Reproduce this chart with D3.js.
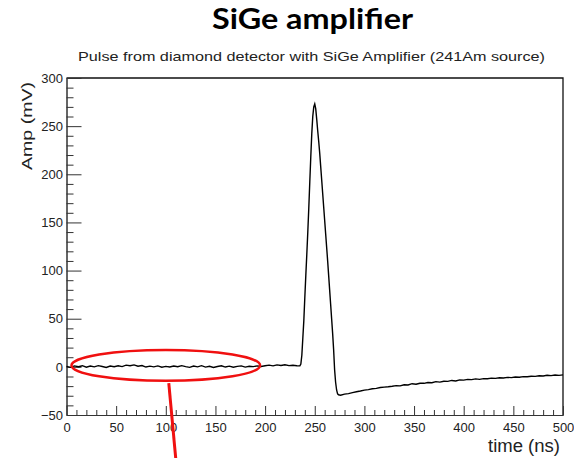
<!DOCTYPE html>
<html>
<head>
<meta charset="utf-8">
<script src="https://cdn.jsdelivr.net/npm/d3@7"></script>
<style>
  body { margin: 0; background: #fff; }
  svg { display: block; }
  .tick text { font-family: "Liberation Sans", Arial, sans-serif; fill: #222; }
</style>
</head>
<body>
<svg id="chart" width="574" height="458"></svg>
<script>
// waveform (ns, mV)
const baseTime = [0,4,8,12,16,20,24,28,32,36,40,44,48,52,56,60,64,68,72,76,80,84,88,92,96,100,104,108,112,116,120,124,128,132,136,140,144,148,152,156,160,164,168,172,176,180,184,188,192,196,200,204,208,212,216,220,224,228,232]
const baseAmp  = [0.5,-0.5,1.0,0.2,1.2,-0.3,0.8,0.0,1.3,0.4,-0.6,0.9,0.1,1.1,0.3,1.8,1.2,2.0,0.6,1.4,-0.2,0.7,0.0,1.0,-0.4,0.5,-0.2,0.9,0.1,1.3,0.2,-0.5,0.8,0.0,1.2,-0.3,0.6,-0.6,0.4,1.1,-0.2,0.7,-0.4,0.5,1.0,-0.3,0.6,0.2,1.0,0.4,1.2,1.8,1.0,2.0,1.4,2.2,1.3,1.6,1.2]
const pulseTime = [235,236,237,238,239,240,241,242,243,244,245,246,247,248,249,250,251,252,253,254,255,256,257,258,259,260,261,262,263,264,265,266,267,268,269,270,271,272,273,274]
const pulseAmp  = [1,3,12,30,48,72,95,117,140,165,192,218,242,260,270,273,268,257,245,234,222,208,194,180,166,152,138,124,110,95,80,65,50,35,18,-3,-16,-24,-28,-29]
const tailTime = [276,280,284,288,292,296,300,304,308,312,316,320,324,328,332,336,340,344,348,352,356,360,364,368,372,376,380,384,388,392,396,400,404,408,412,416,420,424,428,432,436,440,444,448,452,456,460,464,468,472,476,480,484,488,492,496,500]
const tailAmp  = [-29.5,-28.3,-27.8,-26.7,-25.9,-25.1,-24.2,-23.6,-22.8,-22.3,-21.5,-21.0,-20.6,-20.1,-19.5,-19.7,-18.6,-18.8,-17.5,-18.1,-17.0,-17.1,-16.2,-16.5,-15.3,-15.8,-14.9,-15.1,-14.1,-14.6,-13.5,-13.8,-13.0,-13.3,-12.5,-13.0,-12.2,-12.4,-11.7,-12.0,-11.3,-11.6,-10.9,-11.2,-10.5,-10.8,-10.1,-10.3,-9.7,-9.9,-9.3,-9.5,-8.7,-9.1,-8.5,-8.8,-8.3]

const xTicks = [0,50,100,150,200,250,300,350,400,450,500]
const yTicks = [-50,0,50,100,150,200,250,300]
const xMinor = [10,20,30,40,60,70,80,90,110,120,130,140,160,170,180,190,210,220,230,240,260,270,280,290,310,320,330,340,360,370,380,390,410,420,430,440,460,470,480,490]
const yMinor = [-40,-30,-20,-10,10,20,30,40,60,70,80,90,110,120,130,140,160,170,180,190,210,220,230,240,260,270,280,290]

// red marker round the quiet baseline: [t centre, amp centre, t half-width, amp half-height]
const mark = [100, 1.5, 95, 16]
const arrow = [[103, -17], [110, -95]]

const title = "SiGe amplifier"
const subtitle = "Pulse from diamond detector with SiGe Amplifier (241Am source)"
const xLabel = "time (ns)"
const yLabel = "Amp (mV)"

const padL = 66.5, padR = 563, padT = 78, padB = 415

const x = d3.scaleLinear().domain([0, 500]).range([padL, padR])
const y = d3.scaleLinear().domain([-50, 300]).range([padB, padT])

const svg = d3.select("#chart")

const wave = []
baseTime.forEach((t, i) => wave.push([t, baseAmp[i]]))
pulseTime.forEach((t, i) => wave.push([t, pulseAmp[i]]))
tailTime.forEach((t, i) => wave.push([t, tailAmp[i]]))

// titles
svg.append("text")
  .attr("x", 312.5).attr("y", 29)
  .attr("text-anchor", "middle")
  .style("font-family", "Lato, 'Open Sans', sans-serif")
  .style("font-weight", "bold")
  .style("font-size", "28px")
  .attr("textLength", 201).attr("lengthAdjust", "spacingAndGlyphs")
  .text(title)

svg.append("text")
  .attr("x", 311.5).attr("y", 61)
  .attr("text-anchor", "middle")
  .style("font-family", "'Liberation Sans', Arial, sans-serif")
  .style("font-size", "13px")
  .style("fill", "#222")
  .attr("textLength", 467).attr("lengthAdjust", "spacingAndGlyphs")
  .text(subtitle)

// frame top and right
svg.append("path")
  .attr("d", `M${padL},${padT}H${padR}V${padB}`)
  .attr("fill", "none").attr("stroke", "#111").attr("stroke-width", 1.3)

// axes, ticks pointing inward like ROOT
svg.append("g")
  .attr("transform", `translate(0,${padB})`)
  .call(d3.axisBottom(x).tickValues(xMinor).tickSizeInner(-5).tickSizeOuter(0).tickFormat(""))
svg.append("g")
  .attr("transform", `translate(0,${padB})`)
  .call(d3.axisBottom(x).tickValues(xTicks).tickSizeInner(-9).tickSizeOuter(0).tickPadding(8))
  .call(g => g.selectAll("text").style("font-size", "13px"))

svg.append("g")
  .attr("transform", `translate(${padL},0)`)
  .call(d3.axisLeft(y).tickValues(yMinor).tickSizeInner(-7).tickSizeOuter(0).tickFormat(""))
svg.append("g")
  .attr("transform", `translate(${padL},0)`)
  .call(d3.axisLeft(y).tickValues(yTicks).tickSizeInner(-15).tickSizeOuter(0).tickPadding(3.5))
  .call(g => g.selectAll("text").style("font-size", "13px"))

svg.selectAll(".domain, .tick line").attr("stroke", "#333")

// axis titles
svg.append("text")
  .attr("x", 560).attr("y", 452)
  .attr("text-anchor", "end")
  .style("font-family", "'Liberation Sans', Arial, sans-serif")
  .style("font-size", "18px")
  .style("fill", "#222")
  .attr("textLength", 72).attr("lengthAdjust", "spacingAndGlyphs")
  .text(xLabel)

svg.append("text")
  .attr("transform", "translate(32,82) rotate(-90)")
  .attr("text-anchor", "end")
  .style("font-family", "'Liberation Sans', Arial, sans-serif")
  .style("font-size", "15px")
  .style("fill", "#222")
  .attr("textLength", 88).attr("lengthAdjust", "spacingAndGlyphs")
  .text(yLabel)

// trace
svg.append("path")
  .datum(wave)
  .attr("d", d3.line().x(d => x(d[0])).y(d => y(d[1])))
  .attr("fill", "none")
  .attr("stroke", "#000")
  .attr("stroke-width", 1.4)

// red annotation
svg.append("ellipse")
  .attr("cx", x(mark[0])).attr("cy", y(mark[1]))
  .attr("rx", x(mark[2]) - x(0)).attr("ry", y(0) - y(mark[3]))
  .attr("fill", "none").attr("stroke", "#f01010").attr("stroke-width", 2.5)

svg.append("line")
  .attr("x1", x(arrow[0][0])).attr("y1", y(arrow[0][1]))
  .attr("x2", x(arrow[1][0])).attr("y2", y(arrow[1][1]))
  .attr("stroke", "#f01010").attr("stroke-width", 3)
</script>
</body>
</html>
